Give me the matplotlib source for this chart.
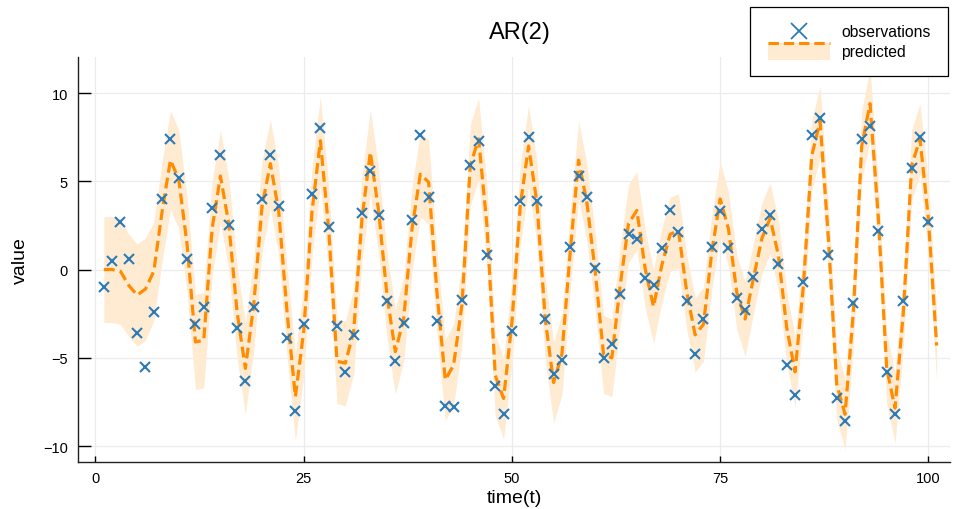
import numpy as np
import matplotlib.pyplot as plt
from matplotlib.lines import Line2D
from matplotlib.patches import Rectangle
from matplotlib.legend_handler import HandlerBase

plt.rcParams['font.family'] = ['Liberation Sans', 'DejaVu Sans']

# observations, t = 1..100
obs = [-1.0, 0.5, 2.7, 0.6, -3.6, -5.5, -2.4, 4.0, 7.4, 5.2,
       0.6, -3.1, -2.1, 3.5, 6.5, 2.5, -3.3, -6.3, -2.1, 4.0,
       6.5, 3.6, -3.9, -8.0, -3.1, 4.3, 8.0, 2.4, -3.2, -5.8,
       -3.7, 3.2, 5.6, 3.1, -1.8, -5.2, -3.0, 2.8, 7.6, 4.1,
       -2.9, -7.7, -7.8, -1.7, 5.9, 7.3, 0.8, -6.6, -8.2, -3.5,
       3.9, 7.5, 3.9, -2.8, -5.9, -5.1, 1.3, 5.3, 4.1, 0.1,
       -5.0, -4.2, -1.4, 2.0, 1.75, -0.5, -0.85, 1.2, 3.35, 2.1,
       -1.8, -4.8, -2.8, 1.3, 3.3, 1.2, -1.6, -2.3, -0.4, 2.3,
       3.1, 0.3, -5.4, -7.1, -0.7, 7.6, 8.6, 0.85, -7.3, -8.6,
       -1.9, 7.4, 8.15, 2.2, -5.8, -8.2, -1.8, 5.75, 7.5, 2.7]

# predicted mean, t = 1..101
pred = [0.0, 0.0, -0.1, -0.9, -1.45, -1.1, -0.1, 3.3, 6.2, 5.1,
        1.4, -4.1, -4.0, 2.3, 5.3, 2.6, -2.4, -5.6, -2.0, 3.6,
        6.0, 3.3, -2.4, -7.2, -3.5, 3.3, 7.3, 2.3, -5.2, -5.3,
        -3.5, 2.9, 6.65, 3.3, -1.45, -4.65, -2.8, 2.3, 5.4, 4.95,
        -1.3, -6.25, -5.4, -2.0, 5.9, 7.4, 2.5, -6.0, -7.3, -3.0,
        3.6, 7.0, 3.8, -2.8, -6.4, -4.8, 1.0, 6.2, 3.8, -0.1,
        -4.8, -5.0, -0.9, 2.6, 3.35, 0.05, -2.1, 0.25, 2.0, 2.2,
        -1.3, -3.7, -3.1, 1.0, 4.0, 2.3, -1.3, -2.8, -0.5, 1.75,
        2.9, 0.8, -3.3, -5.8, -0.9, 6.45, 8.4, 1.75, -6.5, -8.2,
        -2.4, 7.0, 9.4, 2.9, -5.6, -7.85, -2.4, 5.9, 7.4, 2.9,
        -4.3]

# half width of the ribbon, t = 1..101
spread = [3.0, 3.0, 3.0, 2.9, 2.9, 2.9, 2.8, 2.8, 2.8, 2.8,
          2.7, 2.7, 2.7, 2.7, 2.6, 2.6, 2.6, 2.6, 2.6, 2.6,
          2.5, 2.5, 2.5, 2.5, 2.5, 2.5, 2.5, 2.4, 2.4, 2.4,
          2.4, 2.4, 2.4, 2.4, 2.4, 2.4, 2.4, 2.4, 2.4, 2.4,
          2.3, 2.3, 2.3, 2.3, 2.3, 2.3, 2.3, 2.3, 2.3, 2.3,
          2.3, 2.3, 2.3, 2.3, 2.3, 2.3, 2.2, 2.2, 2.2, 2.2,
          2.2, 2.2, 2.2, 2.2, 2.2, 2.2, 2.1, 2.1, 2.1, 2.1,
          2.1, 2.1, 2.1, 2.1, 2.1, 2.1, 2.1, 2.1, 2.0, 2.0,
          2.0, 2.0, 2.0, 2.0, 2.0, 2.0, 2.0, 2.0, 2.0, 2.0,
          2.0, 2.0, 2.0, 2.0, 2.0, 2.0, 2.0, 2.0, 2.0, 2.0,
          2.0]

t_obs = np.arange(1, len(obs) + 1)
t_pred = np.arange(1, len(pred) + 1)
pred = np.array(pred)
spread = np.array(spread)

blue = '#2c7bb6'
orange = '#ff8c00'
band_col = '#ffead2'
dash = (3.4, 1.6)

fig = plt.figure(figsize=(9.56, 5.10), dpi=100)
ax = fig.add_axes([78 / 956, 47 / 510, 872 / 956, 405 / 510])

ax.fill_between(t_pred, pred - spread, pred + spread, color=band_col, lw=0, zorder=1)
ax.plot(t_pred, pred, color=orange, lw=2.3, dashes=dash, zorder=2)
ax.plot(t_obs, obs, ls='none', marker='x', ms=6.5, mew=1.5, color=blue, zorder=3)

ax.set_xlim(-2.1, 102.6)
ax.set_ylim(-10.9, 12.04)
ax.set_xticks([0, 25, 50, 75, 100])
ax.set_yticks([-10, -5, 0, 5, 10])
ax.grid(True, color='#ececec', lw=0.9)
ax.set_axisbelow(True)
for s in ['top', 'right']:
    ax.spines[s].set_visible(False)
for s in ['left', 'bottom']:
    ax.spines[s].set_linewidth(1.0)
    ax.spines[s].set_color('#222222')
ax.tick_params(axis='y', direction='in', length=9.4, width=1.0, pad=7.2, labelsize=10.5)
ax.tick_params(axis='x', direction='in', length=4.3, width=1.0, pad=6.5, labelsize=10.5)

ax.set_title('AR(2)', fontsize=17, pad=14, x=0.507)
ax.set_xlabel('time(t)', fontsize=14, labelpad=3)
ax.set_ylabel('value', fontsize=14, labelpad=10)


class RibbonHandler(HandlerBase):
    def create_artists(self, legend, orig_handle, xdescent, ydescent,
                       width, height, fontsize, trans):
        x0 = -xdescent
        y0 = -ydescent
        band = Rectangle((x0, y0 - 0.35 * height), width, 1.55 * height,
                         facecolor=band_col, edgecolor='none', transform=trans)
        line = Line2D([x0, x0 + width], [y0 + 1.2 * height] * 2, color=orange,
                      lw=2.2, dashes=dash, transform=trans)
        return [band, line]


h_obs = Line2D([], [], ls='none', marker='x', ms=12, mew=1.3, color=blue)
h_pred = Rectangle((0, 0), 1, 1)
leg = fig.legend([h_obs, h_pred], ['observations', 'predicted'],
                 handler_map={Rectangle: RibbonHandler()},
                 loc='upper right', bbox_to_anchor=(948 / 956, 1 - 8 / 510),
                 fontsize=11.3, frameon=True, fancybox=False, framealpha=1,
                 edgecolor='black', borderpad=1.1, handlelength=4.0,
                 handletextpad=0.7, labelspacing=0.3, borderaxespad=0)
leg.get_frame().set_linewidth(0.9)

fig.savefig('out.png', dpi=100)
